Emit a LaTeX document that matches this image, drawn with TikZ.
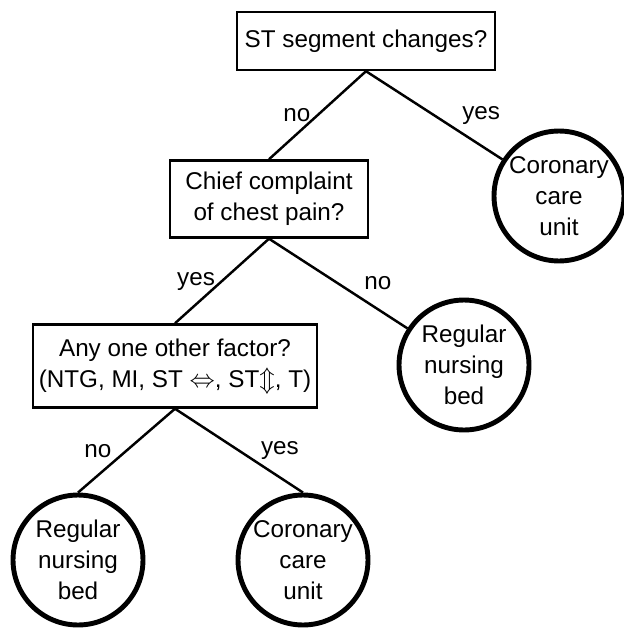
\documentclass[tikz,border=0pt]{standalone}
\usepackage{fontspec}
\setmainfont{Liberation Sans}
\begin{document}
\begin{tikzpicture}[x=0.02cm,y=-0.02cm,font=\fontsize{13.8}{17.5}\selectfont,
  question/.style={draw,line width=1.4pt,align=center,inner sep=0pt},
  outcome/.style={draw,circle,line width=2.8pt,minimum size=2.6cm,inner sep=0pt},
  branch/.style={line width=1.4pt}]
\useasboundingbox (0,0) rectangle (624,629);
\node[question,minimum width=5.16cm,minimum height=1.16cm] (st) at (366,41) {ST segment changes?};
\node[question,minimum width=3.96cm,minimum height=1.54cm] (pain) at (269,199) {Chief complaint\\of chest pain?};
\node[question,minimum width=5.68cm,minimum height=1.66cm] (other) at (175,366)
  {Any one other factor?\\(NTG, MI, ST $\Leftrightarrow$, ST$\Updownarrow$, T)};
\node[outcome,label={[align=center]center:Coronary\\care\\unit}] (ccuA) at (559,196) {};
\node[outcome,label={[align=center]center:Regular\\nursing\\bed}] (bedA) at (464,365) {};
\node[outcome,label={[align=center]center:Regular\\nursing\\bed}] (bedB) at (78,560) {};
\node[outcome,label={[align=center]center:Coronary\\care\\unit}] (ccuB) at (303,560) {};
% branches
\draw[branch] (st.south) -- node[left] {no} (pain.north);
\draw[branch] (st.south) -- node[right=0.42cm] {yes} (ccuA);
\draw[branch] (pain.south) -- node[left] {yes} (other.north);
\draw[branch] (pain.south) -- node[right=0.38cm] {no} (bedA);
\draw[branch] (other.south) -- node[left=0.16cm] {no} (bedB.north);
\draw[branch] (other.south) -- node[right=0.3cm] {yes} (ccuB.north);
\end{tikzpicture}
\end{document}
